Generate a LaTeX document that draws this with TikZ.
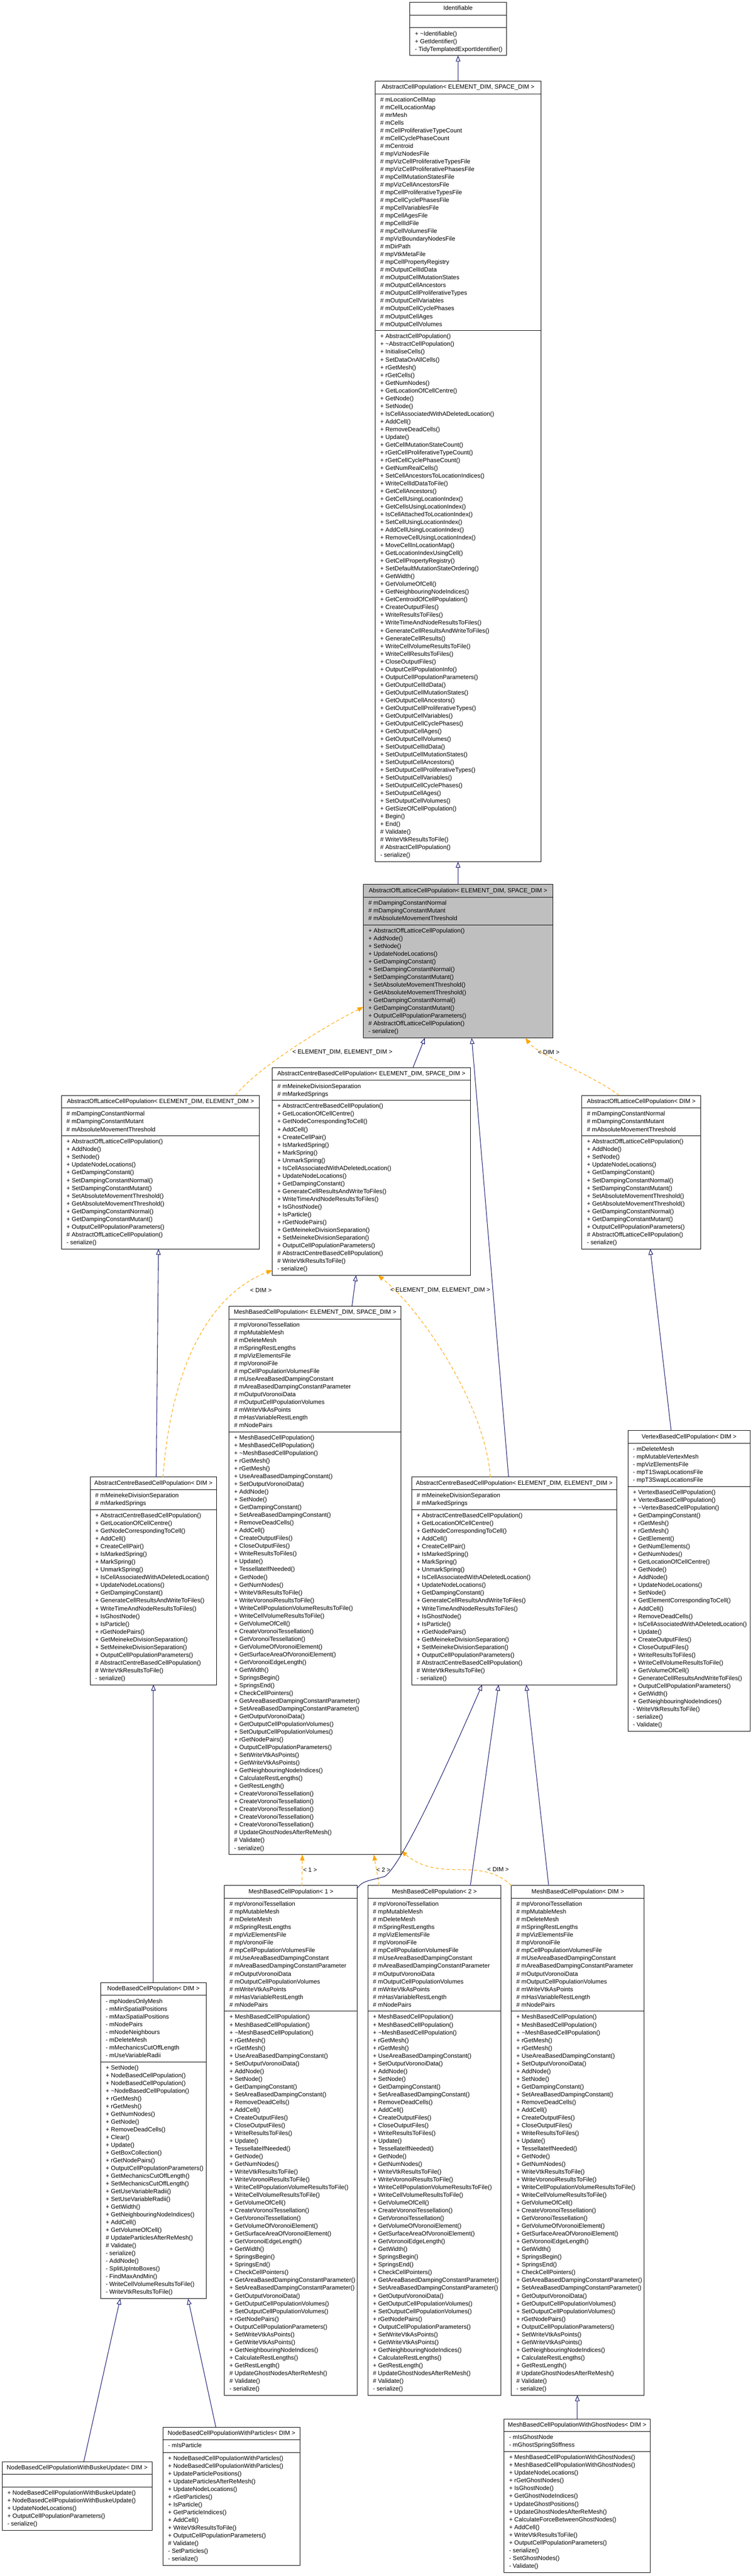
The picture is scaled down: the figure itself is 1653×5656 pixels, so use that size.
\documentclass[tikz,border=0pt]{standalone}
\usepackage{fontspec}
\setmainfont{Liberation Sans}
\usetikzlibrary{arrows.meta}
\definecolor{midnight}{RGB}{25,25,112}
\definecolor{dxorange}{RGB}{255,165,0}
\definecolor{gray75}{RGB}{191,191,191}
\newcommand\umlfont{\fontsize{13.3}{17}\selectfont}
\def\umlfill{white}
\newcommand{\umlclass}[9]{%
  \pgfmathsetmacro{\hA}{max(28,#5*17+10)}%
  \pgfmathsetmacro{\hM}{#6*17+10}%
  \pgfmathsetmacro{\hT}{28+\hA+\hM}%
  \pgfmathsetmacro{\yB}{-28-\hA}%
  \pgfmathsetmacro{\yC}{-33-\hA}%
  \node[umlbox, fill=\umlfill, minimum width=#4pt, minimum height=\hT pt, anchor=north west] (#1) at (#2,#3) {};
  \draw[umlline] ([yshift=-28pt]#1.north west) -- ([yshift=-28pt]#1.north east);
  \draw[umlline] ([yshift=\yB pt]#1.north west) -- ([yshift=\yB pt]#1.north east);
  \node[umltxt, anchor=north] (#1-h) at ([yshift=-5.5pt]#1.north) {\begin{tabular}{@{}c@{}}#7\end{tabular}};
  \ifx&#8&\else\node[umltxt, anchor=north west] (#1-a) at ([xshift=11pt,yshift=-33pt]#1.north west) {\begin{tabular}{@{}l@{}}#8\end{tabular}};\fi
  \node[umltxt, anchor=north west] (#1-m) at ([xshift=11pt,yshift=\yC pt]#1.north west) {\begin{tabular}{@{}l@{}}#9\end{tabular}};
}
% shared member lists
\def\aolpattrs{\# mDampingConstantNormal\\ \# mDampingConstantMutant\\ \# mAbsoluteMovementThreshold}
\def\aolpmeths{+ AbstractOffLatticeCellPopulation()\\ + AddNode()\\ + SetNode()\\ + UpdateNodeLocations()\\ + GetDampingConstant()\\ + SetDampingConstantNormal()\\ + SetDampingConstantMutant()\\ + SetAbsoluteMovementThreshold()\\ + GetAbsoluteMovementThreshold()\\ + GetDampingConstantNormal()\\ + GetDampingConstantMutant()\\ + OutputCellPopulationParameters()\\ \# AbstractOffLatticeCellPopulation()\\ - serialize()}
\def\acbpattrs{\# mMeinekeDivisionSeparation\\ \# mMarkedSprings}
\def\acbpmeths{+ AbstractCentreBasedCellPopulation()\\ + GetLocationOfCellCentre()\\ + GetNodeCorrespondingToCell()\\ + AddCell()\\ + CreateCellPair()\\ + IsMarkedSpring()\\ + MarkSpring()\\ + UnmarkSpring()\\ + IsCellAssociatedWithADeletedLocation()\\ + UpdateNodeLocations()\\ + GetDampingConstant()\\ + GenerateCellResultsAndWriteToFiles()\\ + WriteTimeAndNodeResultsToFiles()\\ + IsGhostNode()\\ + IsParticle()\\ + rGetNodePairs()\\ + GetMeinekeDivisionSeparation()\\ + SetMeinekeDivisionSeparation()\\ + OutputCellPopulationParameters()\\ \# AbstractCentreBasedCellPopulation()\\ \# WriteVtkResultsToFile()\\ - serialize()}
\def\mbpattrs{\# mpVoronoiTessellation\\ \# mpMutableMesh\\ \# mDeleteMesh\\ \# mSpringRestLengths\\ \# mpVizElementsFile\\ \# mpVoronoiFile\\ \# mpCellPopulationVolumesFile\\ \# mUseAreaBasedDampingConstant\\ \# mAreaBasedDampingConstantParameter\\ \# mOutputVoronoiData\\ \# mOutputCellPopulationVolumes\\ \# mWriteVtkAsPoints\\ \# mHasVariableRestLength\\ \# mNodePairs}
\def\mbpmethsA{+ MeshBasedCellPopulation()\\ + MeshBasedCellPopulation()\\ + \textasciitilde MeshBasedCellPopulation()\\ + rGetMesh()\\ + rGetMesh()\\ + UseAreaBasedDampingConstant()\\ + SetOutputVoronoiData()\\ + AddNode()\\ + SetNode()\\ + GetDampingConstant()\\ + SetAreaBasedDampingConstant()\\ + RemoveDeadCells()\\ + AddCell()\\ + CreateOutputFiles()\\ + CloseOutputFiles()\\ + WriteResultsToFiles()\\ + Update()\\ + TessellateIfNeeded()\\ + GetNode()\\ + GetNumNodes()\\ + WriteVtkResultsToFile()\\ + WriteVoronoiResultsToFile()\\ + WriteCellPopulationVolumeResultsToFile()\\ + WriteCellVolumeResultsToFile()\\ + GetVolumeOfCell()\\ + CreateVoronoiTessellation()\\ + GetVoronoiTessellation()\\ + GetVolumeOfVoronoiElement()\\ + GetSurfaceAreaOfVoronoiElement()\\ + GetVoronoiEdgeLength()\\ + GetWidth()\\ + SpringsBegin()\\ + SpringsEnd()\\ + CheckCellPointers()\\ + GetAreaBasedDampingConstantParameter()\\ + SetAreaBasedDampingConstantParameter()\\ + GetOutputVoronoiData()\\ + GetOutputCellPopulationVolumes()\\ + SetOutputCellPopulationVolumes()\\ + rGetNodePairs()\\ + OutputCellPopulationParameters()\\ + SetWriteVtkAsPoints()\\ + GetWriteVtkAsPoints()\\ + GetNeighbouringNodeIndices()\\ + CalculateRestLengths()\\ + GetRestLength()}
\def\mbpmethsEnd{\# UpdateGhostNodesAfterReMesh()\\ \# Validate()\\ - serialize()}
\begin{document}
\begin{tikzpicture}[x=1pt,y=-1pt,
  umlbox/.style={draw=black, line width=1.1pt, inner sep=0pt, outer sep=0pt},
  umlline/.style={draw=black, line width=1.1pt},
  umltxt/.style={inner sep=0pt, font=\umlfont, text=black},
  lbl/.style={inner sep=0pt, font=\umlfont, text=black},
  inh/.style={draw=midnight, line width=1.2pt, -{Triangle[open, length=13pt, width=10pt, fill=white]}},
  tpl/.style={draw=dxorange, line width=1.2pt, dash pattern=on 7pt off 5pt, -{Triangle[length=13pt, width=10pt, fill=dxorange]}}]
\fill[white] (0,0) rectangle (1653,5656);
\useasboundingbox (0,0) rectangle (1653,5656);

% Identifiable
\umlclass{id}{900}{5}{212}{0}{3}{Identifiable}{}{+ \textasciitilde Identifiable()\\ + GetIdentifier()\\ - TidyTemplatedExportIdentifier()}

% AbstractCellPopulation
\umlclass{acp}{824}{178}{364}{30}{68}{AbstractCellPopulation< ELEMENT\_DIM, SPACE\_DIM >}{\# mLocationCellMap\\ \# mCellLocationMap\\ \# mrMesh\\ \# mCells\\ \# mCellProliferativeTypeCount\\ \# mCellCyclePhaseCount\\ \# mCentroid\\ \# mpVizNodesFile\\ \# mpVizCellProliferativeTypesFile\\ \# mpVizCellProliferativePhasesFile\\ \# mpCellMutationStatesFile\\ \# mpVizCellAncestorsFile\\ \# mpCellProliferativeTypesFile\\ \# mpCellCyclePhasesFile\\ \# mpCellVariablesFile\\ \# mpCellAgesFile\\ \# mpCellIdFile\\ \# mpCellVolumesFile\\ \# mpVizBoundaryNodesFile\\ \# mDirPath\\ \# mpVtkMetaFile\\ \# mpCellPropertyRegistry\\ \# mOutputCellIdData\\ \# mOutputCellMutationStates\\ \# mOutputCellAncestors\\ \# mOutputCellProliferativeTypes\\ \# mOutputCellVariables\\ \# mOutputCellCyclePhases\\ \# mOutputCellAges\\ \# mOutputCellVolumes}{+ AbstractCellPopulation()\\ + \textasciitilde AbstractCellPopulation()\\ + InitialiseCells()\\ + SetDataOnAllCells()\\ + rGetMesh()\\ + rGetCells()\\ + GetNumNodes()\\ + GetLocationOfCellCentre()\\ + GetNode()\\ + SetNode()\\ + IsCellAssociatedWithADeletedLocation()\\ + AddCell()\\ + RemoveDeadCells()\\ + Update()\\ + GetCellMutationStateCount()\\ + rGetCellProliferativeTypeCount()\\ + rGetCellCyclePhaseCount()\\ + GetNumRealCells()\\ + SetCellAncestorsToLocationIndices()\\ + WriteCellIdDataToFile()\\ + GetCellAncestors()\\ + GetCellUsingLocationIndex()\\ + GetCellsUsingLocationIndex()\\ + IsCellAttachedToLocationIndex()\\ + SetCellUsingLocationIndex()\\ + AddCellUsingLocationIndex()\\ + RemoveCellUsingLocationIndex()\\ + MoveCellInLocationMap()\\ + GetLocationIndexUsingCell()\\ + GetCellPropertyRegistry()\\ + SetDefaultMutationStateOrdering()\\ + GetWidth()\\ + GetVolumeOfCell()\\ + GetNeighbouringNodeIndices()\\ + GetCentroidOfCellPopulation()\\ + CreateOutputFiles()\\ + WriteResultsToFiles()\\ + WriteTimeAndNodeResultsToFiles()\\ + GenerateCellResultsAndWriteToFiles()\\ + GenerateCellResults()\\ + WriteCellVolumeResultsToFile()\\ + WriteCellResultsToFiles()\\ + CloseOutputFiles()\\ + OutputCellPopulationInfo()\\ + OutputCellPopulationParameters()\\ + GetOutputCellIdData()\\ + GetOutputCellMutationStates()\\ + GetOutputCellAncestors()\\ + GetOutputCellProliferativeTypes()\\ + GetOutputCellVariables()\\ + GetOutputCellCyclePhases()\\ + GetOutputCellAges()\\ + GetOutputCellVolumes()\\ + SetOutputCellIdData()\\ + SetOutputCellMutationStates()\\ + SetOutputCellAncestors()\\ + SetOutputCellProliferativeTypes()\\ + SetOutputCellVariables()\\ + SetOutputCellCyclePhases()\\ + SetOutputCellAges()\\ + SetOutputCellVolumes()\\ + GetSizeOfCellPopulation()\\ + Begin()\\ + End()\\ \# Validate()\\ \# WriteVtkResultsToFile()\\ \# AbstractCellPopulation()\\ - serialize()}

% AbstractOffLatticeCellPopulation<ELEMENT_DIM, SPACE_DIM> (grey)
\def\umlfill{gray75}
\umlclass{aolp}{798}{1942}{416}{3}{14}{AbstractOffLatticeCellPopulation< ELEMENT\_DIM, SPACE\_DIM >}{\aolpattrs}{\aolpmeths}
\def\umlfill{white}

\umlclass{aolpee}{135}{2405}{435}{3}{14}{AbstractOffLatticeCellPopulation< ELEMENT\_DIM, ELEMENT\_DIM >}{\aolpattrs}{\aolpmeths}
\umlclass{aolpdim}{1278}{2405}{261}{3}{14}{AbstractOffLatticeCellPopulation< DIM >}{\aolpattrs}{\aolpmeths}

\umlclass{acbp}{598}{2344}{435}{2}{22}{AbstractCentreBasedCellPopulation< ELEMENT\_DIM, SPACE\_DIM >}{\acbpattrs}{\acbpmeths}
\umlclass{acbpdim}{198}{3243}{278}{2}{22}{AbstractCentreBasedCellPopulation< DIM >}{\acbpattrs}{\acbpmeths}
\umlclass{acbpee}{904}{3243}{451}{2}{22}{AbstractCentreBasedCellPopulation< ELEMENT\_DIM, ELEMENT\_DIM >}{\acbpattrs}{\acbpmeths}

\umlclass{mbp}{503}{2868}{378}{14}{54}{MeshBasedCellPopulation< ELEMENT\_DIM, SPACE\_DIM >}{\mbpattrs}{\mbpmethsA\\ + CreateVoronoiTessellation()\\ + CreateVoronoiTessellation()\\ + CreateVoronoiTessellation()\\ + CreateVoronoiTessellation()\\ + CreateVoronoiTessellation()\\ \mbpmethsEnd}

\umlclass{vbp}{1379}{3141}{269}{5}{31}{VertexBasedCellPopulation< DIM >}{- mDeleteMesh\\ - mpMutableVertexMesh\\ - mpVizElementsFile\\ - mpT1SwapLocationsFile\\ - mpT3SwapLocationsFile}{+ VertexBasedCellPopulation()\\ + VertexBasedCellPopulation()\\ + \textasciitilde VertexBasedCellPopulation()\\ + GetDampingConstant()\\ + rGetMesh()\\ + rGetMesh()\\ + GetElement()\\ + GetNumElements()\\ + GetNumNodes()\\ + GetLocationOfCellCentre()\\ + GetNode()\\ + AddNode()\\ + UpdateNodeLocations()\\ + SetNode()\\ + GetElementCorrespondingToCell()\\ + AddCell()\\ + RemoveDeadCells()\\ + IsCellAssociatedWithADeletedLocation()\\ + Update()\\ + CreateOutputFiles()\\ + CloseOutputFiles()\\ + WriteResultsToFiles()\\ + WriteCellVolumeResultsToFile()\\ + GetVolumeOfCell()\\ + GenerateCellResultsAndWriteToFiles()\\ + OutputCellPopulationParameters()\\ + GetWidth()\\ + GetNeighbouringNodeIndices()\\ - WriteVtkResultsToFile()\\ - serialize()\\ - Validate()}

\umlclass{mbp1}{493}{4140}{292}{14}{49}{MeshBasedCellPopulation< 1 >}{\mbpattrs}{\mbpmethsA\\ \mbpmethsEnd}
\umlclass{mbp2}{808}{4140}{292}{14}{49}{MeshBasedCellPopulation< 2 >}{\mbpattrs}{\mbpmethsA\\ \mbpmethsEnd}
\umlclass{mbpdim}{1123}{4140}{292}{14}{49}{MeshBasedCellPopulation< DIM >}{\mbpattrs}{\mbpmethsA\\ \mbpmethsEnd}

\umlclass{nbp}{221}{4353}{232}{8}{30}{NodeBasedCellPopulation< DIM >}{- mpNodesOnlyMesh\\ - mMinSpatialPositions\\ - mMaxSpatialPositions\\ - mNodePairs\\ - mNodeNeighbours\\ - mDeleteMesh\\ - mMechanicsCutOffLength\\ - mUseVariableRadii}{+ SetNode()\\ + NodeBasedCellPopulation()\\ + NodeBasedCellPopulation()\\ + \textasciitilde NodeBasedCellPopulation()\\ + rGetMesh()\\ + rGetMesh()\\ + GetNumNodes()\\ + GetNode()\\ + RemoveDeadCells()\\ + Clear()\\ + Update()\\ + GetBoxCollection()\\ + rGetNodePairs()\\ + OutputCellPopulationParameters()\\ + GetMechanicsCutOffLength()\\ + SetMechanicsCutOffLength()\\ + GetUseVariableRadii()\\ + SetUseVariableRadii()\\ + GetWidth()\\ + GetNeighbouringNodeIndices()\\ + AddCell()\\ + GetVolumeOfCell()\\ \# UpdateParticlesAfterReMesh()\\ \# Validate()\\ - serialize()\\ - AddNode()\\ - SplitUpIntoBoxes()\\ - FindMaxAndMin()\\ - WriteCellVolumeResultsToFile()\\ - WriteVtkResultsToFile()}

\umlclass{nbpb}{5}{5405}{329}{0}{5}{NodeBasedCellPopulationWithBuskeUpdate< DIM >}{}{+ NodeBasedCellPopulationWithBuskeUpdate()\\ + NodeBasedCellPopulationWithBuskeUpdate()\\ + UpdateNodeLocations()\\ + OutputCellPopulationParameters()\\ - serialize()}

\umlclass{nbpp}{358}{5329}{301}{1}{14}{NodeBasedCellPopulationWithParticles< DIM >}{- mIsParticle}{+ NodeBasedCellPopulationWithParticles()\\ + NodeBasedCellPopulationWithParticles()\\ + UpdateParticlePositions()\\ + UpdateParticlesAfterReMesh()\\ + UpdateNodeLocations()\\ + rGetParticles()\\ + IsParticle()\\ + GetParticleIndices()\\ + AddCell()\\ + WriteVtkResultsToFile()\\ + OutputCellPopulationParameters()\\ \# Validate()\\ - SetParticles()\\ - serialize()}

\umlclass{mbpg}{1107}{5311}{321}{2}{15}{MeshBasedCellPopulationWithGhostNodes< DIM >}{- mIsGhostNode\\ - mGhostSpringStiffness}{+ MeshBasedCellPopulationWithGhostNodes()\\ + MeshBasedCellPopulationWithGhostNodes()\\ + UpdateNodeLocations()\\ + rGetGhostNodes()\\ + IsGhostNode()\\ + GetGhostNodeIndices()\\ + UpdateGhostPositions()\\ + UpdateGhostNodesAfterReMesh()\\ + CalculateForceBetweenGhostNodes()\\ + AddCell()\\ + WriteVtkResultsToFile()\\ + OutputCellPopulationParameters()\\ - serialize()\\ - SetGhostNodes()\\ - Validate()}

% ---------- connectors ----------
\draw[inh] (acp.north) -- (id.south);
\draw[inh] (aolp.north) -- (acp.south);
\draw[tpl] ([xshift=382pt]aolpee.north west) .. controls (560,2350) and (700,2260) .. ([yshift=-269pt]aolp.north west);
\node[lbl] (l1) at (752,2311) {< ELEMENT\_DIM, ELEMENT\_DIM >};
\draw[inh] ([xshift=309pt]acbp.north west) -- ([xshift=135pt]aolp.south west);
\draw[inh] ([xshift=213pt]acbpee.north west) -- ([xshift=238pt]aolp.south west);
\draw[tpl] ([xshift=82pt]aolpdim.north west) .. controls (1300,2360) and (1180,2315) .. ([xshift=356pt]aolp.south west);
\node[lbl] (l2) at (1205,2310) {< DIM >};
\draw[inh] ([xshift=145pt]acbpdim.north west) -- ([xshift=213pt]aolpee.south west);
\draw[tpl] ([xshift=160pt]acbpdim.north west) .. controls (380,2950) and (490,2830) .. ([yshift=-445pt]acbp.north west);
\node[lbl] (l3) at (573,2833) {< DIM >};
\draw[inh] ([xshift=270pt]mbp.north west) -- ([xshift=184pt]acbp.south west);
\draw[tpl] ([xshift=173pt]acbpee.north west) .. controls (1065,3080) and (920,2870) .. ([xshift=232pt]acbp.south west);
\node[lbl] (l4) at (967,2833) {< ELEMENT\_DIM, ELEMENT\_DIM >};
\draw[inh] ([xshift=95pt]vbp.north west) -- ([xshift=150pt]aolpdim.south west);
\draw[inh] ([xshift=116pt]nbp.north west) -- ([xshift=139pt]acbpdim.south west);
\draw[tpl] ([xshift=170pt]mbp1.north west) -- ([xshift=161pt]mbp.south west);
\node[lbl] (l5) at (681,4106) {< 1 >};
\draw[tpl] ([xshift=25pt]mbp2.north west) -- ([xshift=318pt]mbp.south west);
\node[lbl] (l6) at (842,4106) {< 2 >};
\draw[tpl] (mbpdim.north west) .. controls (1095,4112) and (1060,4105) .. (1010,4105) .. controls (960,4105) and (925,4100) .. ([yshift=8pt]mbp.south east);
\node[lbl] (l7) at (1094,4105) {< DIM >};
\draw[inh] ([yshift=-6pt]mbp1.north east) .. controls (795,4128) and (820,4128) .. (845,4120) .. controls (875,4100) and (950,3950) .. ([xshift=155pt]acbpee.south west);
\draw[inh] ([xshift=225pt]mbp2.north west) -- ([xshift=191pt]acbpee.south west);
\draw[inh] ([xshift=82pt]mbpdim.north west) -- ([xshift=252pt]acbpee.south west);
\draw[inh] ([xshift=179pt]nbpb.north west) -- ([xshift=43pt]nbp.south west);
\draw[inh] ([xshift=116pt]nbpp.north west) -- ([xshift=192pt]nbp.south west);
\draw[inh] ([xshift=161pt]mbpg.north west) -- ([xshift=145pt]mbpdim.south west);
\end{tikzpicture}
\end{document}
